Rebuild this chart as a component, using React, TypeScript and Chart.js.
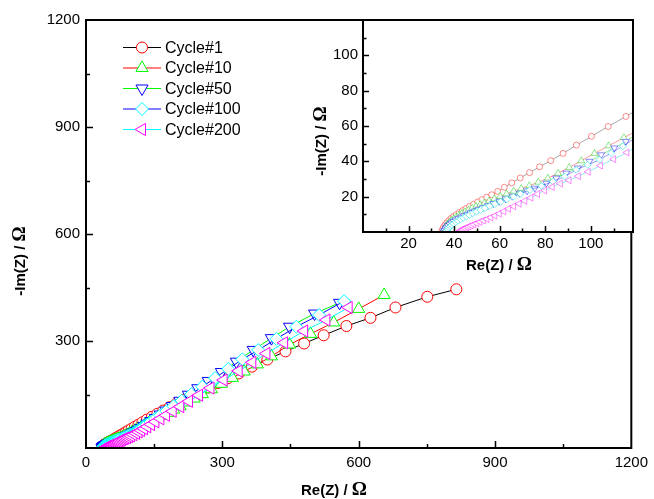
import React, { useEffect, useRef } from 'react';
import { Chart, registerables } from 'chart.js';

Chart.register(...registerables);

// ---------------- data ----------------
const seriesNames = ['Cycle#1', 'Cycle#10', 'Cycle#50', 'Cycle#100', 'Cycle#200'];

const cycle1Re = [34.6, 34.9, 35.4, 36.0, 36.8, 37.7, 38.7, 39.8, 41.0, 42.3, 43.7, 45.2, 46.8, 48.5, 50.3, 52.2, 54.3, 56.5, 59.1, 62.0, 65.3, 69.0, 73.1, 77.5, 82.4, 87.8, 93.7, 100.3, 107.6, 115.4, 124, 134, 145, 157, 170, 184, 199, 215, 232, 250, 269, 290, 312, 336, 365, 399, 439, 480, 523, 573, 626, 681, 751, 815];
const cycle1Im = [0.3, 1.5, 2.8, 4.0, 5.3, 6.5, 7.7, 8.8, 9.9, 11.0, 12.1, 13.3, 14.5, 15.7, 17.0, 18.3, 19.7, 21.1, 23.0, 25.3, 27.8, 30.6, 33.6, 36.9, 40.4, 44.5, 49.2, 54.2, 59.7, 65.4, 72, 79.5, 87.5, 96, 105, 114.5, 124.5, 135, 146, 157.5, 169.5, 182, 195.5, 209, 228, 248, 271, 293, 316, 342, 365, 394, 424, 445];

const cycle10Re = [35.0, 35.3, 35.8, 36.4, 37.1, 37.9, 38.8, 39.8, 40.9, 42.1, 43.4, 44.8, 46.3, 47.9, 49.6, 51.4, 53.3, 55.3, 57.6, 60.2, 63.0, 66.1, 69.4, 73.0, 76.9, 81.1, 85.6, 90.5, 95.8, 101.6, 107.8, 114.5, 121.7, 129.5, 138, 147, 157, 168, 180, 193, 207, 222, 238, 256, 276, 298, 322, 348, 377, 408, 448, 494, 545, 600, 656];
const cycle10Im = [0.2, 1.2, 2.3, 3.4, 4.5, 5.5, 6.5, 7.5, 8.5, 9.5, 10.5, 11.4, 12.4, 13.4, 14.4, 15.4, 16.4, 17.5, 18.8, 20.2, 21.6, 23.1, 24.6, 26.2, 28.2, 30.5, 33.2, 36.5, 40.3, 44.5, 48.8, 53.4, 58.4, 63.8, 69.6, 75.8, 82.7, 90.3, 98.6, 107.6, 117.2, 127.6, 138.6, 151, 164.8, 180, 196.6, 214.5, 234.5, 257, 290, 320, 352, 390, 429];

const cycle50Re = [35.5, 35.8, 36.2, 36.7, 37.3, 38.0, 38.8, 39.7, 40.7, 41.8, 43.0, 44.3, 45.7, 47.2, 48.8, 50.6, 52.6, 54.8, 57.2, 59.8, 62.6, 65.6, 68.8, 72.0, 75.4, 80.5, 84.8, 89.2, 94.3, 99.4, 104.5, 110.3, 115.4, 121, 127.3, 134.5, 142.8, 152.3, 163.2, 175.7, 190, 206.5, 225.5, 246, 269, 298, 331, 368, 408, 448, 503, 558];
const cycle50Im = [0.1, 0.9, 1.8, 2.7, 3.6, 4.4, 5.2, 6.0, 6.8, 7.6, 8.4, 9.2, 10.0, 10.9, 11.8, 12.8, 13.8, 14.9, 16.1, 17.4, 18.8, 20.3, 21.9, 23.3, 24.8, 27.6, 30.5, 33.3, 36.2, 40.0, 43.7, 47.6, 51.3, 56.3, 61.9, 68.3, 75.7, 84.2, 93.9, 105, 117.7, 132.4, 149.3, 167.6, 188, 213, 242, 275, 308, 340, 377, 407];

const cycle100Re = [36.5, 36.8, 37.2, 37.7, 38.3, 39.0, 39.8, 40.7, 41.7, 42.8, 44.0, 45.3, 46.7, 48.2, 49.8, 51.6, 53.5, 55.6, 57.9, 60.4, 63.1, 66.0, 69.1, 73.2, 78.3, 83.4, 88.5, 93.6, 98.6, 103.8, 108.9, 114, 119.5, 125.9, 133.3, 141.9, 151.9, 163.5, 176.9, 192.5, 210.6, 231.6, 256, 284, 313, 344, 379, 419, 463, 513, 568];
const cycle100Im = [0.1, 0.8, 1.6, 2.4, 3.2, 4.0, 4.8, 5.6, 6.4, 7.2, 8.0, 8.8, 9.7, 10.6, 11.5, 12.5, 13.5, 14.6, 15.8, 17.1, 18.5, 20.0, 21.6, 23.8, 26.1, 28.6, 31.4, 35.2, 38.0, 40.9, 44.7, 48.5, 53.3, 58.9, 65.3, 72.8, 81.5, 91.6, 103.3, 116.9, 132.6, 150.9, 172, 196.3, 221.5, 248.6, 274.7, 306, 340, 373, 412];

const cycle200Re = [42.6, 43.0, 43.5, 44.1, 44.8, 45.6, 46.5, 47.5, 48.6, 49.9, 51.3, 52.8, 54.4, 56.1, 57.9, 59.8, 61.8, 63.9, 66.1, 68.5, 71.0, 73.7, 76.6, 79.7, 83.0, 86.6, 90.4, 94.5, 98.8, 104.2, 110.0, 115.8, 121.3, 127.6, 134.8, 143.1, 152.6, 163.6, 176.2, 190.7, 207.4, 226.6, 248.6, 273.9, 302.9, 335.9, 366, 397, 436, 480, 529, 578];
const cycle200Im = [0.7, 1.0, 1.3, 1.7, 2.1, 2.6, 3.1, 3.7, 4.3, 4.9, 5.7, 6.5, 7.3, 8.2, 9.2, 10.4, 11.7, 13.1, 14.5, 16.0, 17.6, 19.4, 21.5, 23.5, 25.5, 27.4, 29.3, 31.6, 34.1, 37.6, 41.2, 45.0, 49.2, 54, 59.5, 66, 73.4, 82, 91.8, 103, 116, 131, 148, 168, 190.5, 216, 240, 265, 295, 328, 359, 394];

const mainTickValues = [0, 150, 300, 450, 600, 750, 900, 1050, 1200];
const mainXLabels = ['0', '300', '600', '900', '1200'];
const mainYLabels = ['300', '600', '900', '1200'];
const insetTickValues = [10, 20, 30, 40, 50, 60, 70, 80, 90, 100, 110];
const insetXLabels = ['20', '40', '60', '80', '100'];
const insetYLabels = ['20', '40', '60', '80', '100'];

const xTitle = 'Re(Z) / ';
const yTitle = '-Im(Z) / ';
const ohm = 'Ω';

// ---------------- styles ----------------
const seriesRe = [cycle1Re, cycle10Re, cycle50Re, cycle100Re, cycle200Re];
const seriesIm = [cycle1Im, cycle10Im, cycle50Im, cycle100Im, cycle200Im];
const lineColors = ['#000000', '#ff0000', '#00ff00', '#0000ff', '#00ffff'];
const markerColors = ['#ff0000', '#00ff00', '#0000ff', '#00ffff', '#ff00ff'];
const insetLineColors = ['rgba(0,0,0,0.35)', 'rgba(255,0,0,0.4)', 'rgba(0,200,0,0.4)', 'rgba(0,0,255,0.4)', 'rgba(0,220,220,0.45)'];
const insetMarkerColors = ['rgba(255,0,0,0.45)', 'rgba(0,200,0,0.45)', 'rgba(0,0,255,0.45)', 'rgba(0,220,220,0.5)', 'rgba(255,0,255,0.45)'];
const markerStyles = ['circle', 'triangle', 'triangle', 'rectRot', 'triangle'];
const markerRotations = [0, 0, 180, 0, -90];
const markerRadii = [5.5, 7, 7, 6.5, 7];
const insetRadii = [3, 4, 4, 3.5, 4];

const SANS = '"Liberation Sans", Arial, sans-serif';
const SERIF = '"Liberation Serif", "Times New Roman", serif';

const buildPoints = (re: number[], im: number[]) => re.map((x, i) => ({ x, y: im[i] }));

function drawMarker(ctx: CanvasRenderingContext2D, style: string, x: number, y: number, r: number, rot: number) {
  ctx.beginPath();
  if (style === 'circle') {
    ctx.arc(x, y, r, 0, Math.PI * 2);
  } else if (style === 'rectRot') {
    ctx.moveTo(x - r, y);
    ctx.lineTo(x, y - r);
    ctx.lineTo(x + r, y);
    ctx.lineTo(x, y + r);
    ctx.closePath();
  } else {
    let rad = (rot * Math.PI) / 180;
    for (let k = 0; k < 3; k++) {
      const px = x + Math.sin(rad) * r;
      const py = y - Math.cos(rad) * r;
      if (k === 0) ctx.moveTo(px, py);
      else ctx.lineTo(px, py);
      rad += (2 * Math.PI) / 3;
    }
    ctx.closePath();
  }
  ctx.fill();
  ctx.stroke();
}

function drawTitleH(ctx: CanvasRenderingContext2D, cx: number, baseline: number) {
  ctx.save();
  ctx.fillStyle = '#000';
  ctx.textBaseline = 'alphabetic';
  ctx.textAlign = 'left';
  ctx.font = `bold 15px ${SANS}`;
  const w1 = ctx.measureText(xTitle).width;
  ctx.font = `bold 19px ${SERIF}`;
  const w2 = ctx.measureText(ohm).width;
  const x0 = cx - (w1 + w2) / 2;
  ctx.font = `bold 15px ${SANS}`;
  ctx.fillText(xTitle, x0, baseline);
  ctx.font = `bold 19px ${SERIF}`;
  ctx.fillText(ohm, x0 + w1, baseline);
  ctx.restore();
}

function drawTitleV(ctx: CanvasRenderingContext2D, baselineX: number, cy: number) {
  ctx.save();
  ctx.translate(baselineX, cy);
  ctx.rotate(-Math.PI / 2);
  ctx.fillStyle = '#000';
  ctx.textBaseline = 'alphabetic';
  ctx.textAlign = 'left';
  ctx.font = `bold 15px ${SANS}`;
  const w1 = ctx.measureText(yTitle).width;
  ctx.font = `bold 19px ${SERIF}`;
  const w2 = ctx.measureText(ohm).width;
  const x0 = -(w1 + w2) / 2;
  ctx.font = `bold 15px ${SANS}`;
  ctx.fillText(yTitle, x0, 0);
  ctx.font = `bold 19px ${SERIF}`;
  ctx.fillText(ohm, x0 + w1, 0);
  ctx.restore();
}

function drawFrameTicks(chart: any, values: number[], majors: string[], majorsY: string[], majorLen: number, minorLen: number) {
  const { ctx, chartArea } = chart;
  const { left, right, top, bottom } = chartArea;
  const xs = chart.scales.x;
  const ys = chart.scales.y;
  ctx.save();
  ctx.strokeStyle = '#000';
  ctx.lineWidth = 1.5;
  ctx.beginPath();
  values.forEach((v) => {
    const px = Math.round(xs.getPixelForValue(v)) + 0.5;
    if (px > left + 1 && px < right - 1) {
      const len = majors.includes(String(v)) ? majorLen : minorLen;
      ctx.moveTo(px, bottom);
      ctx.lineTo(px, bottom - len);
    }
    const py = Math.round(ys.getPixelForValue(v)) + 0.5;
    if (py > top + 1 && py < bottom - 1) {
      const len = majorsY.includes(String(v)) ? majorLen : minorLen;
      ctx.moveTo(left, py);
      ctx.lineTo(left + len, py);
    }
  });
  ctx.stroke();
  ctx.lineWidth = 2;
  ctx.strokeRect(left, top, right - left, bottom - top);
  ctx.restore();
}

function scaleOptions(values: number[], labels: string[], min: number, max: number, padding: number, fit: (s: any) => void) {
  return {
    type: 'linear' as const,
    min,
    max,
    grid: { display: false, drawTicks: false },
    border: { display: false },
    afterBuildTicks: (s: any) => {
      s.ticks = values.map((v) => ({ value: v }));
    },
    afterFit: fit,
    ticks: {
      autoSkip: false,
      maxRotation: 0,
      padding,
      color: '#000',
      font: { family: SANS, size: 15 },
      callback: (v: any) => (labels.includes(String(v)) ? String(v) : ''),
    },
  };
}

export default function App() {
  const mainRef = useRef<HTMLCanvasElement>(null);
  const insetRef = useRef<HTMLCanvasElement>(null);

  useEffect(() => {
    if (!mainRef.current || !insetRef.current) return;

    const mainDecor = {
      id: 'mainDecor',
      beforeDraw(chart: any) {
        const { ctx, width, height } = chart;
        ctx.save();
        ctx.fillStyle = '#fff';
        ctx.fillRect(0, 0, width, height);
        ctx.restore();
      },
      afterDraw(chart: any) {
        const { ctx } = chart;
        drawFrameTicks(chart, mainTickValues, mainXLabels, mainYLabels, 7, 4);
        drawTitleH(ctx, 334, 495);
        drawTitleV(ctx, 25, 261);
        // legend
        ctx.save();
        seriesNames.forEach((name, i) => {
          const y = 47.5 + i * 20.5;
          ctx.strokeStyle = lineColors[i];
          ctx.lineWidth = 1;
          ctx.beginPath();
          ctx.moveTo(123, y);
          ctx.lineTo(161, y);
          ctx.stroke();
          ctx.fillStyle = '#fff';
          ctx.strokeStyle = markerColors[i];
          drawMarker(ctx, markerStyles[i], 142, y, markerRadii[i], markerRotations[i]);
          ctx.fillStyle = '#000';
          ctx.font = `16px ${SANS}`;
          ctx.textBaseline = 'middle';
          ctx.textAlign = 'left';
          ctx.fillText(name, 165, y + 1);
        });
        ctx.restore();
      },
    };

    const insetDecor = {
      id: 'insetDecor',
      beforeDraw(chart: any) {
        const { ctx, chartArea } = chart;
        ctx.save();
        ctx.fillStyle = '#fff';
        ctx.fillRect(chartArea.left, chartArea.top, chartArea.right - chartArea.left, chartArea.bottom - chartArea.top);
        ctx.restore();
      },
      afterDraw(chart: any) {
        const { ctx } = chart;
        drawFrameTicks(chart, insetTickValues, insetXLabels, insetYLabels, 6, 3.5);
        drawTitleH(ctx, 499, 270);
        drawTitleV(ctx, 326, 141);
      },
    };

    const mainChart = new Chart(mainRef.current, {
      type: 'scatter',
      data: {
        datasets: seriesNames.map((name, i) => ({
          label: name,
          data: buildPoints(seriesRe[i], seriesIm[i]),
          showLine: true,
          borderColor: lineColors[i],
          borderWidth: 1,
          pointStyle: markerStyles[i] as any,
          rotation: markerRotations[i],
          pointRotation: markerRotations[i],
          pointRadius: markerRadii[i],
          pointBorderColor: markerColors[i],
          pointBackgroundColor: '#ffffff',
          pointBorderWidth: 1,
          tension: 0,
          order: 4 - i,
        })),
      },
      options: {
        animation: false,
        responsive: false,
        devicePixelRatio: 1,
        events: [],
        layout: { padding: { left: 0, top: 20, right: 21, bottom: 0 } },
        plugins: { legend: { display: false }, tooltip: { enabled: false } },
        scales: {
          x: scaleOptions(mainTickValues, mainXLabels, 0, 1200, 6, (s: any) => { s.height = 51; }),
          y: scaleOptions(mainTickValues, mainYLabels, 0, 1200, 6, (s: any) => { s.width = 86; }),
        },
      } as any,
      plugins: [mainDecor],
    });

    const insetChart = new Chart(insetRef.current, {
      type: 'scatter',
      data: {
        datasets: seriesNames.map((name, i) => ({
          label: name,
          data: buildPoints(seriesRe[i], seriesIm[i]),
          showLine: true,
          borderColor: insetLineColors[i],
          borderWidth: 1,
          pointStyle: markerStyles[i] as any,
          pointRotation: markerRotations[i],
          pointRadius: insetRadii[i],
          pointBorderColor: insetMarkerColors[i],
          pointBackgroundColor: '#ffffff',
          pointBorderWidth: 1,
          tension: 0,
          order: 4 - i,
          clip: 0,
        })),
      },
      options: {
        animation: false,
        responsive: false,
        devicePixelRatio: 1,
        events: [],
        layout: { padding: { left: 313, top: 20, right: 21, bottom: 237 } },
        plugins: { legend: { display: false }, tooltip: { enabled: false } },
        scales: {
          x: scaleOptions(insetTickValues, insetXLabels, 0, 118.5, 3, (s: any) => { s.height = 30; }),
          y: scaleOptions(insetTickValues, insetYLabels, 0, 120, 5, (s: any) => { s.width = 50; }),
        },
      } as any,
      plugins: [insetDecor],
    });

    return () => {
      mainChart.destroy();
      insetChart.destroy();
    };
  }, []);

  return (
    <div style={{ position: 'fixed', left: 0, top: 0, width: 654, height: 499, background: '#fff' }}>
      <canvas ref={mainRef} width={654} height={499} style={{ position: 'absolute', left: 0, top: 0, width: 654, height: 499 }} />
      <canvas ref={insetRef} width={654} height={499} style={{ position: 'absolute', left: 0, top: 0, width: 654, height: 499, pointerEvents: 'none' }} />
    </div>
  );
}
